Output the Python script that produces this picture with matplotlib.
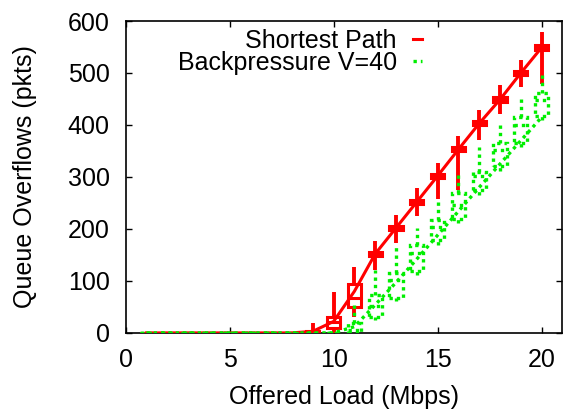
import numpy as np
import matplotlib.pyplot as plt
from matplotlib.lines import Line2D

plt.rcParams['font.family'] = ['Liberation Sans', 'DejaVu Sans']

load = np.arange(1, 21)

# shortest path: line (mean), box (q1..q3, median), whiskers (lo..hi)
sp_line = [0, 0, 0, 0, 0, 0, 0, 0, 3, 22, 80, 152, 202, 252, 302, 353, 403, 449, 500, 549]
sp_med = [0, 0, 0, 0, 0, 0, 0, 0, 2, 20, 67, 152, 202, 252, 302, 353, 403, 449, 500, 549]
sp_q1 = [0, 0, 0, 0, 0, 0, 0, 0, 0, 9, 49, 148, 198, 248, 298, 349, 399, 445, 496, 545]
sp_q3 = [0, 0, 0, 0, 0, 0, 0, 0, 4, 31, 94, 156, 206, 256, 306, 357, 407, 453, 504, 553]
sp_lo = [0, 0, 0, 0, 0, 0, 0, 0, 0, 0, 30, 121, 173, 224, 258, 275, 371, 422, 474, 478]
sp_hi = [0, 0, 0, 0, 0, 0, 0, 0, 19, 79, 127, 177, 227, 279, 327, 378, 429, 477, 525, 579]

# backpressure V=40
bp_line = [0, 0, 0, 0, 0, 0, 0, 0, 0, 0, 12, 54, 97, 142, 188, 234, 280, 325, 370, 415]
bp_med = [0, 0, 0, 0, 0, 0, 0, 0, 0, 0, 5, 52, 102, 154, 204, 247, 301, 352, 400, 448]
bp_q1 = [0, 0, 0, 0, 0, 0, 0, 0, 0, 0, 0, 30, 67, 120, 179, 220, 274, 321, 366, 417]
bp_q3 = [0, 0, 0, 0, 0, 0, 0, 0, 0, 0, 19, 73, 115, 169, 217, 270, 310, 365, 416, 461]
bp_lo = [0, 0, 0, 0, 0, 0, 0, 0, 0, 0, 0, 25, 62, 112, 170, 212, 265, 312, 358, 410]
bp_hi = [0, 0, 0, 0, 0, 0, 0, 0, 0, 0, 60, 121, 166, 201, 252, 304, 358, 406, 458, 502]

RED = '#ff0000'
GREEN = '#00ee00'
W = 0.64

fig = plt.figure(figsize=(5.63, 4.12), dpi=100)
ax = fig.add_axes([0.223, 0.192, 0.776, 0.757])


def candles(x, line, med, q1, q3, lo, hi, color, ls, lw, wlw):
    q1 = np.array(q1); q3 = np.array(q3)
    ax.plot(x, line, color=color, ls=ls, lw=lw, zorder=3)
    ax.bar(x, q3 - q1, bottom=q1, width=W, fill=False, edgecolor=color,
           linestyle=ls, linewidth=lw, zorder=3)
    ax.hlines(med, x - W / 2, x + W / 2, color=color, ls=ls, lw=lw, zorder=3)
    ax.vlines(x, lo, q1, color=color, ls=ls, lw=wlw, zorder=3)
    ax.vlines(x, q3, hi, color=color, ls=ls, lw=wlw, zorder=3)


candles(load, sp_line, sp_med, sp_q1, sp_q3, sp_lo, sp_hi, RED, '-', 2.2, 2.8)
candles(load, bp_line, bp_med, bp_q1, bp_q3, bp_lo, bp_hi, GREEN, (0, (1, 1.2)), 2.4, 2.4)

ax.set_xlim(0, 21)
ax.set_ylim(0, 600)
ax.set_xticks([0, 5, 10, 15, 20])
ax.set_yticks(range(0, 601, 100))
ax.tick_params(direction='in', length=4, width=1, labelsize=18,
               top=True, right=True)
ax.tick_params(axis='x', pad=11)
ax.tick_params(axis='y', pad=11.5)
for s in ax.spines.values():
    s.set_linewidth(1.2)

ax.set_xlabel('Offered Load (Mbps)', fontsize=18, labelpad=9)
ax.set_ylabel('Queue Overflows (pkts)', fontsize=18, labelpad=22)

handles = [Line2D([], [], color=RED, lw=2.2),
           Line2D([], [], color=GREEN, lw=2.4, ls=(0, (1, 1.2)))]
ax.legend(handles, ['Shortest Path', 'Backpressure V=40'], loc='upper right',
          bbox_to_anchor=(0.678, 0.975), frameon=False, fontsize=18,
          markerfirst=False, handlelength=0.36, handletextpad=0.64,
          labelspacing=-0.08, borderpad=0, borderaxespad=0)

fig.savefig('out.png', dpi=100)
